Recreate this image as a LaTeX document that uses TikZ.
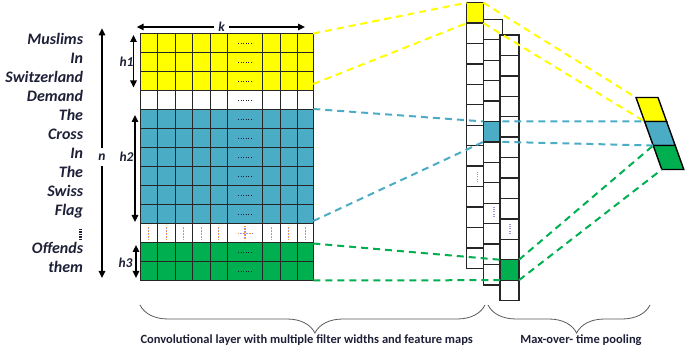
\documentclass[tikz,border=0pt]{standalone}
\usepackage{fontspec}
\setmainfont{Carlito}
\usetikzlibrary{arrows.meta,decorations.pathreplacing}
\definecolor{ylw}{RGB}{255,255,0}
\definecolor{aqua}{RGB}{75,172,198}
\definecolor{grn}{RGB}{0,176,80}
\definecolor{ink}{RGB}{30,32,55}
\begin{document}
\begin{tikzpicture}[x=1pt,y=-1pt,
  word/.style={anchor=base east, font=\fontsize{16}{16}\selectfont\bfseries\itshape, text=ink, inner sep=0pt},
  lbl/.style={font=\fontsize{13.5}{13.5}\selectfont\bfseries\itshape, text=ink, inner sep=0pt},
  dimarrow/.style={line width=1.5pt, draw=black, -{Triangle[length=7pt,width=6.5pt]}},
  dimboth/.style={line width=1.5pt, draw=black, {Triangle[length=7pt,width=6.5pt]}-{Triangle[length=7pt,width=6.5pt]}},
  gridline/.style={draw=black!85, line width=1pt},
  fcell/.style={draw=black!85, line width=1.3pt, fill=white},
  hotcell/.style={draw=black!85, line width=1.3pt, anchor=north west, inner sep=0pt, outer sep=0pt},
  link/.style={dash pattern=on 7pt off 5pt, line width=2pt},
  hdots/.style={draw=ink, line width=1.6pt, dash pattern=on 1.2pt off 1.3pt},
  vdotsA/.style={draw=orange!80, line width=1.3pt, dash pattern=on 1pt off 2pt},
  vdotsB/.style={draw=blue!45, line width=1.3pt, dash pattern=on 1pt off 2pt, dash phase=1.5pt},
  fdots/.style={draw=black!35!blue!40, line width=1.3pt, dash pattern=on 1pt off 1.2pt},
  brc/.style={decorate, decoration={brace, mirror, amplitude=28pt}, draw=black!65, line width=0.8pt},
  captext/.style={font=\fontsize{12.5}{12.5}\selectfont\bfseries, text=ink, inner sep=0pt}
]
\useasboundingbox (0,0) rectangle (689,352);

% ---------- input matrix ----------
\foreach \r/\c in {0/ylw,1/ylw,2/ylw,3/white,4/aqua,5/aqua,6/aqua,7/aqua,8/aqua,9/aqua,10/white,11/grn,12/grn}
  \fill[\c] (140,{34+19*\r}) rectangle (313.3,{53+19*\r});
\foreach \r in {0,...,13}
  \draw[gridline] (140,{34+19*\r}) -- (313.3,{34+19*\r});
\foreach \x in {140,157.5,175,192.5,210,227.5,262.7,280,297,313.3}
  \draw[gridline] (\x,34) -- (\x,281);
\foreach \r in {0,...,9,11,12}
  \draw[hdots] (238,{43.5+19*\r}) -- (253,{43.5+19*\r});
\foreach \x in {148.75,166.25,183.75,201.25,218.75,271.35,288.5,305.15}{
  \draw[vdotsA] (\x,227) -- (\x,240);
  \draw[vdotsB] (\x,227) -- (\x,240);}
\draw[vdotsA] (245,226.5) -- (245,240);
\draw[vdotsB] (245,226.5) -- (245,240);
\draw[vdotsA] (238,233.5) -- (253,233.5);
\draw[vdotsB] (238,233.5) -- (253,233.5);

% ---------- words ----------
\foreach \w/\y in {Muslims/45,In/64,Switzerland/83,Demand/102,The/121,Cross/140,In/159,The/178,Swiss/197,Flag/216,Offends/254,them/273}
  \node[word] at (83.3,\y) {\w};
\draw[draw=ink, line width=2.2pt, dash pattern=on 1.3pt off 1.2pt] (80.5,229) -- (80.5,241);

% ---------- dimension arrows ----------
\node[lbl, inner sep=4pt] (k) at (221.7,27) {k};
\coordinate (kL) at (136.7,27);
\coordinate (kR) at (305,27);
\draw[dimarrow] (k) -- (kL);
\draw[dimarrow] (k) -- (kR);

\node[lbl, inner sep=5pt] (n) at (102,157) {n};
\coordinate (nT) at (102,28.3);
\coordinate (nB) at (102,278);
\draw[dimarrow] (n) -- (nT);
\draw[dimarrow] (n) -- (nB);

\coordinate (h1T) at (133.5,35);
\coordinate (h1B) at (133.5,87.5);
\draw[dimboth] (h1T) -- (h1B);
\node[lbl] (h1) at (126.5,62) {h1};
\coordinate (h2T) at (135,115);
\coordinate (h2B) at (135,222);
\draw[dimboth] (h2T) -- (h2B);
\node[lbl] (h2) at (126.5,157) {h2};
\coordinate (h3T) at (136,245);
\coordinate (h3B) at (136,278);
\draw[dimboth] (h3T) -- (h3B);
\node[lbl] (h3) at (125.5,263) {h3};

% ---------- feature maps ----------
\foreach \i in {0,...,12}
  \draw[fcell] (466.7,{2.7+20.43*\i}) rectangle (483.3,{2.7+20.43*(\i+1)});
\node[hotcell, fill=ylw, minimum width=16.6pt, minimum height=20.43pt] (fy) at (466.7,2.7) {};
\draw[fdots] (477.7,172) -- (477.7,181);
\foreach \i in {0,...,12}
  \draw[fcell] (483.3,{19.3+20.43*\i}) rectangle (502.3,{19.3+20.43*(\i+1)});
\node[hotcell, fill=aqua, minimum width=19pt, minimum height=20.43pt] (fb) at (483.3,{19.3+20.43*5}) {};
\draw[fdots] (494,207) -- (494,216);
\foreach \i in {0,...,12}
  \draw[fcell] (500,{35+20.43*\i}) rectangle (519,{35+20.43*(\i+1)});
\node[hotcell, fill=grn, minimum width=19pt, minimum height=20.43pt] (fg) at (500,{35+20.43*11}) {};
\draw[fdots] (510,224) -- (510,233);

% ---------- pooling ----------
\foreach \i in {0,1,2,3}{
  \coordinate (pL\i) at ({636+8.6*\i},{97.5+24*\i});
  \coordinate (pR\i) at ({658+8.6*\i},{97.5+24*\i});}
\filldraw[fill=ylw, draw=black, line width=1.4pt] (pL0) -- (pR0) -- (pR1) -- (pL1) -- cycle;
\filldraw[fill=aqua, draw=black, line width=1.4pt] (pL1) -- (pR1) -- (pR2) -- (pL2) -- cycle;
\filldraw[fill=grn, draw=black, line width=1.4pt] (pL2) -- (pR2) -- (pR3) -- (pL3) -- cycle;

% ---------- links ----------
\coordinate (gY1) at (313.3,33.5);
\coordinate (gY2) at (313.3,84);
\coordinate (gB1) at (313.3,109);
\coordinate (gB2) at (313.3,221);
\coordinate (gG1) at (313.3,243.5);
\coordinate (gG2) at (313.3,280.5);
\draw[link, ylw] (gY1) -- (fy.north west);
\draw[link, ylw] (gY2) -- (fy.south west);
\draw[link, ylw] (fy.north east) -- (pL0);
\draw[link, ylw] (fy.south east) -- (pL1);
\draw[link, aqua] (gB1) -- (fb.north west);
\draw[link, aqua] (gB2) -- (fb.south west);
\draw[link, aqua] (fb.north east) -- (pL1);
\draw[link, aqua] (fb.south east) -- (pL2);
\draw[link, grn] (gG1) -- (fg.north west);
\draw[link, grn] (gG2) -- (fg.south west);
\draw[link, grn] (fg.north east) -- (pL2);
\draw[link, grn] (fg.south east) -- (pL3);

% ---------- braces and captions ----------
\coordinate (b1L) at (140,305);
\coordinate (b1R) at (485,305);
\coordinate (b2L) at (488,305);
\coordinate (b2R) at (650,305);
\draw[brc, decoration={aspect=0.507}] (b1L) -- (b1R);
\draw[brc, decoration={aspect=0.547}] (b2L) -- (b2R);
\node[captext] (c1) at (306.7,340) {Convolutional layer with multiple filter widths and feature maps};
\node[captext] (c2) at (581,340) {Max-over- time pooling};
\end{tikzpicture}
\end{document}
